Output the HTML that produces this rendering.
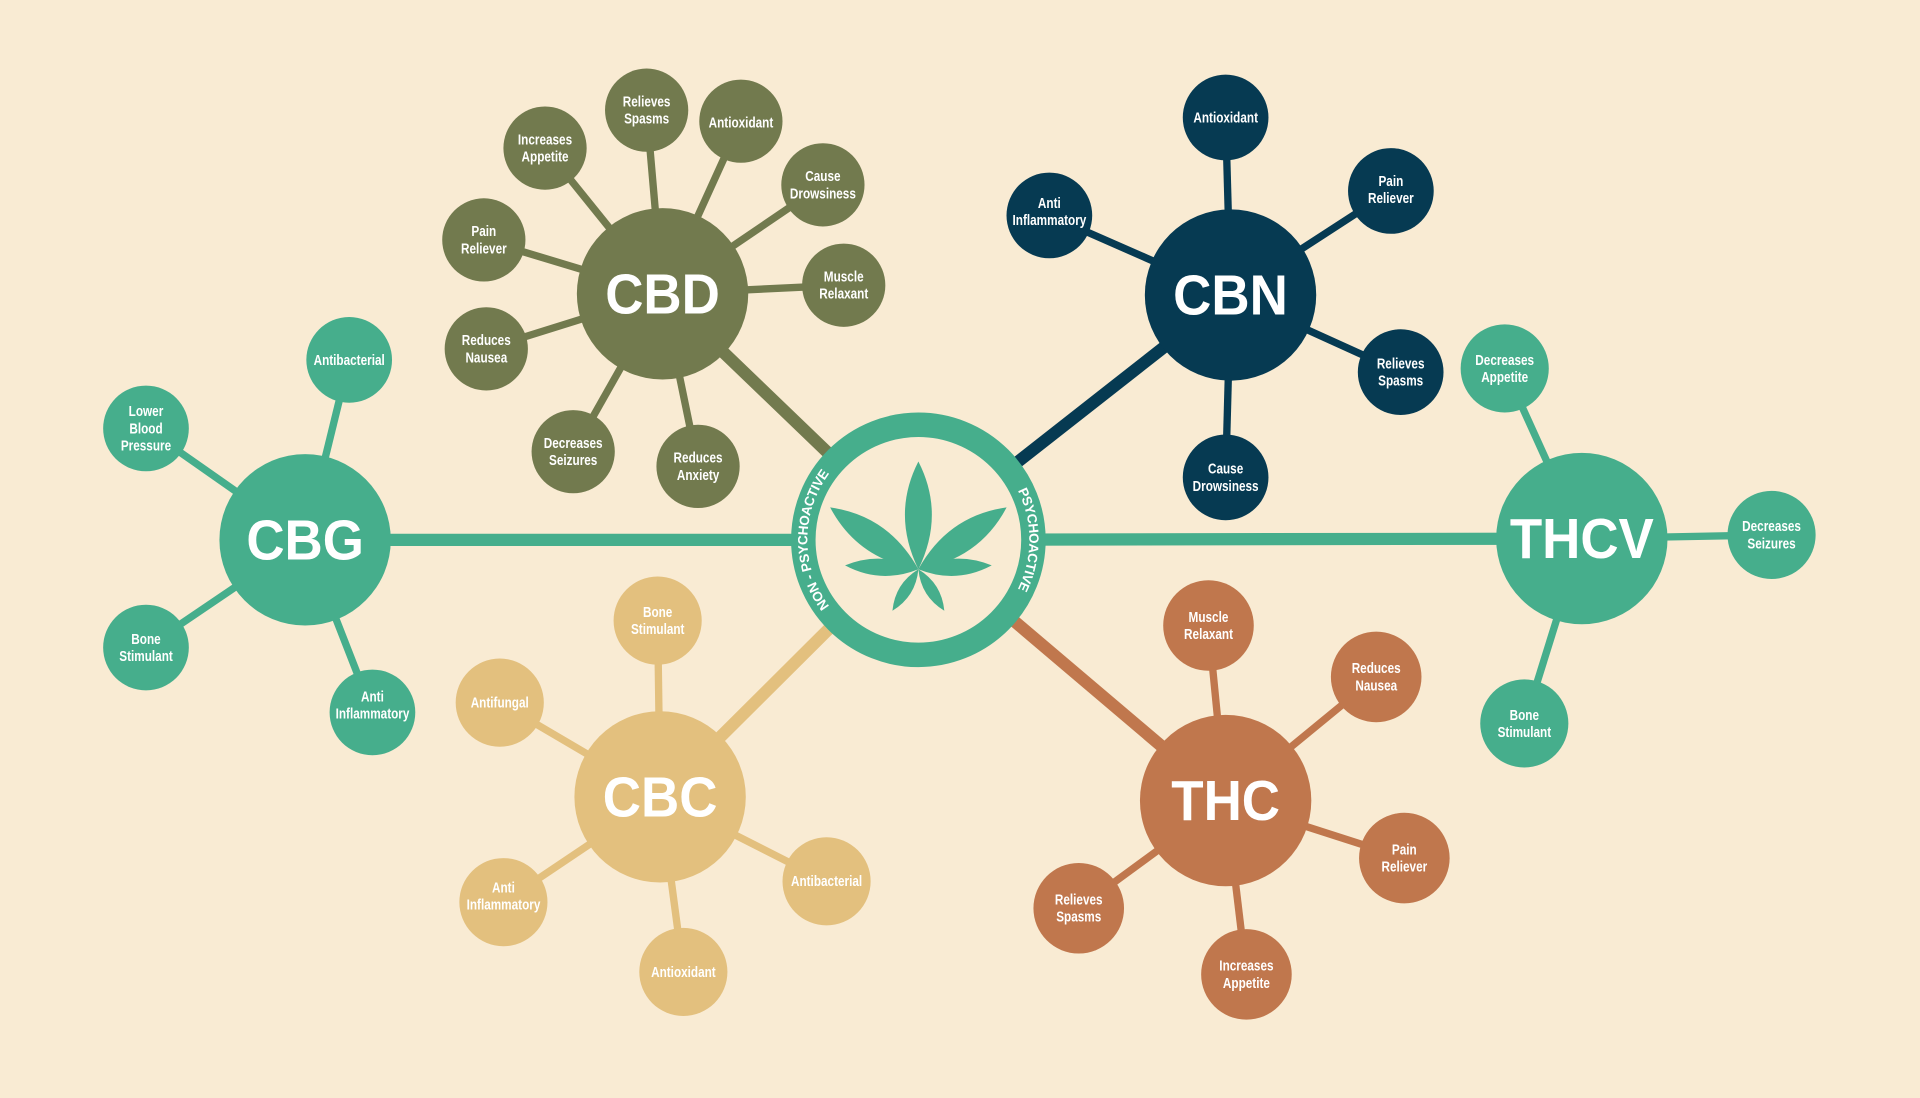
<!DOCTYPE html>
<html><head><meta charset="utf-8"><style>
html,body{margin:0;padding:0;background:#f9ebd3;}
svg{display:block}
.s{font-family:"Liberation Sans Narrow","Liberation Sans",sans-serif;font-weight:bold;font-size:12px;fill:#fff;text-anchor:middle;transform-box:fill-box;transform-origin:center;transform:scaleX(0.8)}
.b{font-family:"Liberation Sans",sans-serif;font-weight:bold;font-size:46px;fill:#fff;text-anchor:middle;transform-box:fill-box;transform-origin:center;transform:scaleX(0.94)}
</style></head><body>
<svg width="1920" height="1098" viewBox="0 0 1568 897" xmlns="http://www.w3.org/2000/svg">
<rect width="1568" height="897" fill="#f9ebd3"/>
<g stroke-width="10">
<line x1="750" y1="441" x2="541" y2="240" stroke="#727a4e"/>
<line x1="750" y1="441" x2="1005" y2="241" stroke="#063a52"/>
<line x1="750" y1="441" x2="249" y2="441" stroke="#46ae8c"/>
<line x1="750" y1="441" x2="1292" y2="440" stroke="#46ae8c"/>
<line x1="750" y1="441" x2="539" y2="651" stroke="#e3c07e"/>
<line x1="750" y1="441" x2="1001" y2="654" stroke="#c0774d"/>
</g>
<!-- CBD -->
<g stroke="#727a4e" stroke-width="6" fill="#727a4e">
<line x1="541" y1="240" x2="528" y2="90"/><line x1="541" y1="240" x2="605" y2="99"/><line x1="541" y1="240" x2="672" y2="151"/><line x1="541" y1="240" x2="689" y2="233"/><line x1="541" y1="240" x2="570" y2="381"/><line x1="541" y1="240" x2="468" y2="369"/><line x1="541" y1="240" x2="397" y2="285"/><line x1="541" y1="240" x2="395" y2="196"/><line x1="541" y1="240" x2="445" y2="121"/>
<g stroke="none"><circle cx="541" cy="240" r="70"/><circle cx="528" cy="90" r="34"/><circle cx="605" cy="99" r="34"/><circle cx="672" cy="151" r="34"/><circle cx="689" cy="233" r="34"/><circle cx="570" cy="381" r="34"/><circle cx="468" cy="369" r="34"/><circle cx="397" cy="285" r="34"/><circle cx="395" cy="196" r="34"/><circle cx="445" cy="121" r="34"/></g>
</g>
<text class="b" x="541" y="256">CBD</text>
<text class="s" x="528" y="87">Relieves</text><text class="s" x="528" y="101">Spasms</text>
<text class="s" x="605" y="104">Antioxidant</text>
<text class="s" x="672" y="148">Cause</text><text class="s" x="672" y="162">Drowsiness</text>
<text class="s" x="689" y="230">Muscle</text><text class="s" x="689" y="244">Relaxant</text>
<text class="s" x="570" y="378">Reduces</text><text class="s" x="570" y="392">Anxiety</text>
<text class="s" x="468" y="366">Decreases</text><text class="s" x="468" y="380">Seizures</text>
<text class="s" x="397" y="282">Reduces</text><text class="s" x="397" y="296">Nausea</text>
<text class="s" x="395" y="193">Pain</text><text class="s" x="395" y="207">Reliever</text>
<text class="s" x="445" y="118">Increases</text><text class="s" x="445" y="132">Appetite</text>
<!-- CBN -->
<g stroke="#063a52" stroke-width="6" fill="#063a52">
<line x1="1005" y1="241" x2="1001" y2="96"/><line x1="1005" y1="241" x2="1136" y2="156"/><line x1="1005" y1="241" x2="1144" y2="304"/><line x1="1005" y1="241" x2="1001" y2="390"/><line x1="1005" y1="241" x2="857" y2="176"/>
<g stroke="none"><circle cx="1005" cy="241" r="70"/><circle cx="1001" cy="96" r="35"/><circle cx="1136" cy="156" r="35"/><circle cx="1144" cy="304" r="35"/><circle cx="1001" cy="390" r="35"/><circle cx="857" cy="176" r="35"/></g>
</g>
<text class="b" x="1005" y="257">CBN</text>
<text class="s" x="1001" y="100">Antioxidant</text>
<text class="s" x="1136" y="152">Pain</text><text class="s" x="1136" y="166">Reliever</text>
<text class="s" x="1144" y="301">Relieves</text><text class="s" x="1144" y="315">Spasms</text>
<text class="s" x="1001" y="387">Cause</text><text class="s" x="1001" y="401">Drowsiness</text>
<text class="s" x="857" y="170">Anti</text><text class="s" x="857" y="184">Inflammatory</text>
<!-- CBG / THCV -->
<g stroke="#46ae8c" stroke-width="6" fill="#46ae8c">
<line x1="249" y1="441" x2="285" y2="294"/><line x1="249" y1="441" x2="119" y2="350"/><line x1="249" y1="441" x2="119" y2="529"/><line x1="249" y1="441" x2="304" y2="582"/>
<line x1="1292" y1="440" x2="1229" y2="301"/><line x1="1292" y1="440" x2="1447" y2="437"/><line x1="1292" y1="440" x2="1245" y2="591"/>
<g stroke="none"><circle cx="249" cy="441" r="70"/><circle cx="285" cy="294" r="35"/><circle cx="119" cy="350" r="35"/><circle cx="119" cy="529" r="35"/><circle cx="304" cy="582" r="35"/>
<circle cx="1292" cy="440" r="70"/><circle cx="1229" cy="301" r="36"/><circle cx="1447" cy="437" r="36"/><circle cx="1245" cy="591" r="36"/></g>
</g>
<text class="b" x="249" y="457">CBG</text>
<text class="s" x="285" y="298">Antibacterial</text>
<text class="s" x="119" y="340">Lower</text><text class="s" x="119" y="354">Blood</text><text class="s" x="119" y="368">Pressure</text>
<text class="s" x="119" y="526">Bone</text><text class="s" x="119" y="540">Stimulant</text>
<text class="s" x="304" y="573">Anti</text><text class="s" x="304" y="587">Inflammatory</text>
<text class="b" x="1292" y="456">THCV</text>
<text class="s" x="1229" y="298">Decreases</text><text class="s" x="1229" y="312">Appetite</text>
<text class="s" x="1447" y="434">Decreases</text><text class="s" x="1447" y="448">Seizures</text>
<text class="s" x="1245" y="588">Bone</text><text class="s" x="1245" y="602">Stimulant</text>
<!-- CBC -->
<g stroke="#e3c07e" stroke-width="6" fill="#e3c07e">
<line x1="539" y1="651" x2="537" y2="507"/><line x1="539" y1="651" x2="408" y2="574"/><line x1="539" y1="651" x2="411" y2="737"/><line x1="539" y1="651" x2="558" y2="794"/><line x1="539" y1="651" x2="675" y2="720"/>
<g stroke="none"><circle cx="539" cy="651" r="70"/><circle cx="537" cy="507" r="36"/><circle cx="408" cy="574" r="36"/><circle cx="411" cy="737" r="36"/><circle cx="558" cy="794" r="36"/><circle cx="675" cy="720" r="36"/></g>
</g>
<text class="b" x="539" y="667">CBC</text>
<text class="s" x="537" y="504">Bone</text><text class="s" x="537" y="518">Stimulant</text>
<text class="s" x="408" y="578">Antifungal</text>
<text class="s" x="411" y="729">Anti</text><text class="s" x="411" y="743">Inflammatory</text>
<text class="s" x="558" y="798">Antioxidant</text>
<text class="s" x="675" y="724">Antibacterial</text>
<!-- THC -->
<g stroke="#c0774d" stroke-width="6" fill="#c0774d">
<line x1="1001" y1="654" x2="987" y2="511"/><line x1="1001" y1="654" x2="1124" y2="553"/><line x1="1001" y1="654" x2="1147" y2="701"/><line x1="1001" y1="654" x2="1018" y2="796"/><line x1="1001" y1="654" x2="881" y2="742"/>
<g stroke="none"><circle cx="1001" cy="654" r="70"/><circle cx="987" cy="511" r="37"/><circle cx="1124" cy="553" r="37"/><circle cx="1147" cy="701" r="37"/><circle cx="1018" cy="796" r="37"/><circle cx="881" cy="742" r="37"/></g>
</g>
<text class="b" x="1001" y="670">THC</text>
<text class="s" x="987" y="508">Muscle</text><text class="s" x="987" y="522">Relaxant</text>
<text class="s" x="1124" y="550">Reduces</text><text class="s" x="1124" y="564">Nausea</text>
<text class="s" x="1147" y="698">Pain</text><text class="s" x="1147" y="712">Reliever</text>
<text class="s" x="1018" y="793">Increases</text><text class="s" x="1018" y="807">Appetite</text>
<text class="s" x="881" y="739">Relieves</text><text class="s" x="881" y="753">Spasms</text>
<!-- center -->
<circle cx="750" cy="441" r="86" fill="#f9ebd3"/>
<circle cx="750" cy="441" r="94" fill="none" stroke="#46ae8c" stroke-width="20"/>
<defs>
<path id="la" d="M 683 508 A 95 95 0 0 1 683 374"/>
<path id="ra" d="M 817 374 A 95 95 0 0 1 817 508"/>
</defs>
<text style="font-family:'Liberation Sans',sans-serif;font-weight:bold;font-size:11px;fill:#fff" dy="4"><textPath href="#la" startOffset="50%" text-anchor="middle">NON - PSYCHOACTIVE</textPath></text>
<text style="font-family:'Liberation Sans',sans-serif;font-weight:bold;font-size:11px;fill:#fff" dy="4"><textPath href="#ra" startOffset="50%" text-anchor="middle">PSYCHOACTIVE</textPath></text>
<g fill="#46ae8c" transform="translate(750,465)">
<path d="M0,0 Q22,-45 0,-88 Q-22,-45 0,0Z"/>
<path d="M0,0 Q22,-45 0,-88 Q-22,-45 0,0Z" transform="rotate(55)"/>
<path d="M0,0 Q22,-45 0,-88 Q-22,-45 0,0Z" transform="rotate(-55)"/>
<path d="M0,0 Q14,-30 0,-60 Q-14,-30 0,0Z" transform="rotate(87)"/>
<path d="M0,0 Q14,-30 0,-60 Q-14,-30 0,0Z" transform="rotate(-87)"/>
<path d="M0,0 Q10,-20 0,-40 Q-10,-20 0,0Z" transform="rotate(148)"/>
<path d="M0,0 Q10,-20 0,-40 Q-10,-20 0,0Z" transform="rotate(-148)"/>
</g>
</svg>
</body></html>
